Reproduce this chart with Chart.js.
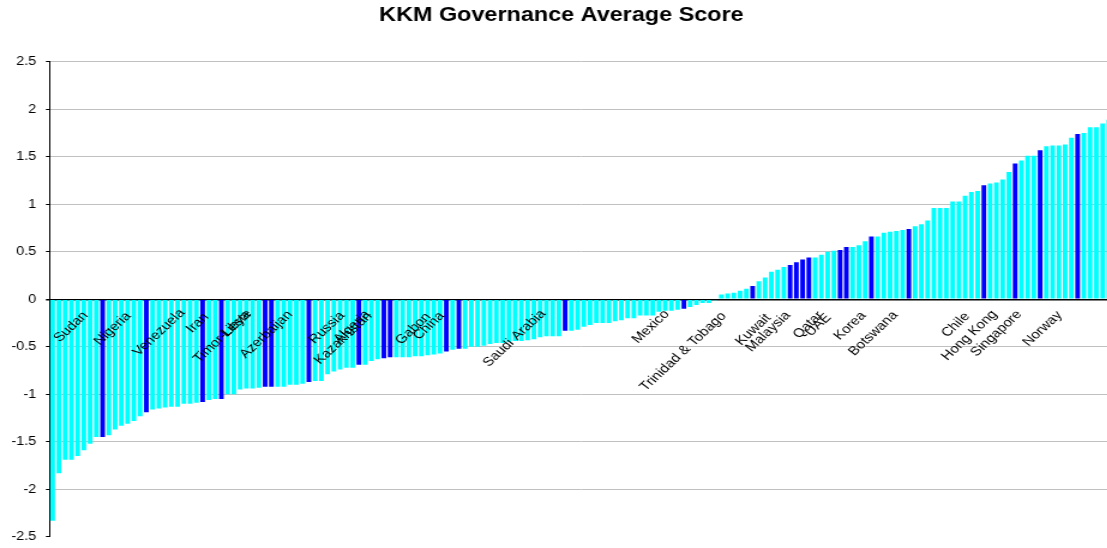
<!DOCTYPE html>
<html>
<head>
<meta charset="utf-8">
<title>KKM Governance Average Score</title>
<script src="https://cdn.jsdelivr.net/npm/chart.js"></script>
<style>
  html, body { margin: 0; padding: 0; background: #fff; overflow: hidden; }
</style>
</head>
<body>
<!-- drawn narrow and stretched sideways, like the pasted original -->
<canvas id="kkmChart" width="927" height="548" style="width:1112.4px;height:548px"></canvas>
<script>
// average governance score of each country, sorted from lowest to highest
var scores = [
  -2.33, -1.83, -1.69, -1.69, -1.65, -1.59, -1.52, -1.45, -1.45, -1.43,
  -1.37, -1.33, -1.31, -1.28, -1.23, -1.19, -1.16, -1.15, -1.14, -1.13,
  -1.13, -1.10, -1.10, -1.09, -1.08, -1.06, -1.05, -1.05, -1.00, -1.00,
  -0.95, -0.94, -0.94, -0.93, -0.92, -0.92, -0.92, -0.92, -0.90, -0.90,
  -0.89, -0.87, -0.86, -0.86, -0.79, -0.76, -0.74, -0.72, -0.72, -0.69,
  -0.69, -0.65, -0.63, -0.62, -0.61, -0.61, -0.61, -0.61, -0.60, -0.60,
  -0.59, -0.58, -0.57, -0.55, -0.53, -0.52, -0.52, -0.50, -0.50, -0.49,
  -0.47, -0.46, -0.46, -0.45, -0.44, -0.44, -0.43, -0.42, -0.40, -0.39,
  -0.39, -0.39, -0.33, -0.33, -0.32, -0.29, -0.27, -0.25, -0.25, -0.25,
  -0.23, -0.22, -0.20, -0.20, -0.17, -0.17, -0.17, -0.13, -0.12, -0.12,
  -0.11, -0.10, -0.08, -0.06, -0.04, -0.04, -0.01, 0.05, 0.06, 0.07,
  0.09, 0.11, 0.14, 0.19, 0.23, 0.29, 0.31, 0.34, 0.36, 0.39,
  0.42, 0.44, 0.44, 0.47, 0.50, 0.51, 0.52, 0.55, 0.55, 0.57,
  0.61, 0.66, 0.66, 0.70, 0.71, 0.72, 0.73, 0.74, 0.77, 0.79,
  0.83, 0.96, 0.96, 0.96, 1.03, 1.03, 1.09, 1.13, 1.14, 1.20,
  1.22, 1.23, 1.26, 1.34, 1.43, 1.46, 1.51, 1.51, 1.57, 1.61,
  1.62, 1.62, 1.63, 1.70, 1.74, 1.75, 1.81, 1.81, 1.85, 1.89
];

// ranks (1 = lowest) of the bars shown in dark blue
var highlighted = [9, 16, 25, 28, 35, 36, 42, 50, 54, 55, 64, 66, 83, 102, 113,
  119, 120, 121, 122, 127, 128, 132, 138, 150, 155, 159, 165];

var ranks = scores.map(function (s, i) { return i + 1; });

var yTicks = [2.5, 2, 1.5, 1, 0.5, 0, -0.5, -1, -1.5, -2, -2.5];

var labelNames = ["Sudan", "Nigeria", "Venezuela", "Iran", "Timor-Leste", "Libya",
  "Azerbaijan", "Russia", "Kazakhstan", "Algeria", "Gabon", "China", "Saudi Arabia",
  "Mexico", "Trinidad & Tobago", "Kuwait", "Malaysia", "Qatar", "UAE", "Korea",
  "Botswana", "Chile", "Hong Kong", "Singapore", "Norway"];

// where each name is centred: [bar position (0 based), score level]
var labelSpots = [
  [2.94, -0.29], [9.6, -0.31], [17.0, -0.35], [23.2, -0.25], [27.2, -0.39], [29.3, -0.26],
  [34.2, -0.37], [43.9, -0.30], [46.5, -0.41], [47.9, -0.29], [57.7, -0.31], [60.2, -0.28],
  [73.9, -0.41], [95.7, -0.29], [100.9, -0.55], [112.1, -0.32], [114.5, -0.34],
  [120.9, -0.27], [122.5, -0.27], [127.6, -0.28], [131.3, -0.36], [144.5, -0.27],
  [146.7, -0.38], [151.0, -0.36], [158.4, -0.31]
];

var CYAN = "#00FFFF";
var BLUE = "#0000FF";
var FONT = "Arial, 'Liberation Sans', sans-serif";

var barColors = ranks.map(function (r) {
  return highlighted.indexOf(r) >= 0 ? BLUE : CYAN;
});

// country names, rotated, just under the zero line
var nameLabels = {
  id: "nameLabels",
  afterDatasetsDraw: function (chart) {
    var ctx = chart.ctx;
    var xs = chart.scales.x;
    var ys = chart.scales.y;
    ctx.save();
    ctx.font = "12.5px " + FONT;
    ctx.fillStyle = "#000";
    ctx.textAlign = "center";
    ctx.textBaseline = "middle";
    labelNames.forEach(function (name, i) {
      ctx.save();
      ctx.translate(xs.getPixelForValue(labelSpots[i][0]), ys.getPixelForValue(labelSpots[i][1]));
      ctx.rotate(-48 * Math.PI / 180);
      ctx.fillText(name, 0, 0);
      ctx.restore();
    });
    ctx.restore();
  },
};

var ctx = document.getElementById("kkmChart").getContext("2d");
var myChart = new Chart(ctx, {
  type: "bar",
  data: {
    labels: ranks,
    datasets: [
      {
        label: "KKM Governance Average Score",
        data: scores,
        backgroundColor: barColors,
        borderWidth: 0,
        categoryPercentage: 1,
        barPercentage: 0.75,
      },
    ],
  },
  options: {
    responsive: false,
    animation: false,
    layout: {
      padding: { left: 9, right: 0, top: 0, bottom: 11.2 },
    },
    scales: {
      x: {
        display: false,
      },
      y: {
        min: -2.5,
        max: 2.5,
        afterBuildTicks: function (scale) {
          scale.ticks = yTicks.map(function (v) { return { value: v }; });
        },
        afterFit: function (scale) {
          scale.width = 32.25;
          // let the layout padding alone decide the plot's top and bottom
          scale.paddingTop = 0;
          scale.paddingBottom = 0;
        },
        border: { display: true, color: "#000", width: 1 },
        grid: {
          color: function (c) {
            if (c.tick.value === 0) return "#000";
            if (c.tick.value === -2.5) return "rgba(0,0,0,0)";
            return "#c0c0c0";
          },
          lineWidth: function (c) {
            return c.tick.value === 0 ? 1.5 : 1;
          },
          tickColor: "#000",
          tickLength: 3,
        },
        ticks: {
          padding: 8,
          color: "#000",
          font: { family: FONT, size: 12 },
          callback: function (v) { return String(v); },
        },
      },
    },
    plugins: {
      legend: { display: false },
      tooltip: { enabled: false },
      title: {
        display: true,
        text: "KKM Governance Average Score",
        color: "#000",
        font: { family: FONT, size: 19.5, weight: "bold" },
        padding: { top: 4, bottom: 34.4 },
      },
    },
  },
  plugins: [nameLabels],
});
</script>
</body>
</html>
